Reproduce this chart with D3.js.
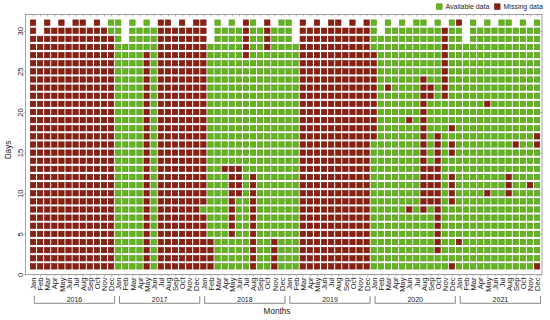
<!DOCTYPE html>
<html><head><meta charset="utf-8">
<script src="https://cdn.jsdelivr.net/npm/d3@7"></script>
<style>body{margin:0;background:#fff}svg{display:block;font-family:"Liberation Sans",Arial,sans-serif}</style>
</head><body><svg id="c" width="550" height="320"></svg>
<script>
// ---- data: one string per month, one char per day (A = available, M = missing), grouped by 5 days
const years = [2016, 2017, 2018, 2019, 2020, 2021];
const monthNames = ["Jan","Feb","Mar","Apr","May","Jun","Jul","Aug","Sep","Oct","Nov","Dec"];
const dayTicks = [0, 5, 10, 15, 20, 25, 30];
const legendLabels = ["Available data", "Missing data"];

const status2016 = [
  "MMMMM MMMMM MMMMM MMMMM MMMMM MMMMM M",
  "MMMMM MMMMM MMMMM MMMMM MMMMM MMMM",
  "MMMMM MMMMM MMMMM MMMMM MMMMM MMMMM M",
  "MMMMM MMMMM MMMMM MMMMM MMMMM MMMMM",
  "MMMMM MMMMM MMMMM MMMMM MMMMM MMMMM M",
  "MMMMM MMMMM MMMMM MMMMM MMMMM MMMMM",
  "MMMMM MMMMM MMMMM MMMMM MMMMM MMMMM M",
  "MMMMM MMMMM MMMMM MMMMM MMMMM MMMMM M",
  "MMMMM MMMMM MMMMM MMMMM MMMMM MMMMM",
  "MMMMM MMMMM MMMMM MMMMM MMMMM MMMMM M",
  "MMMMM MMMMM MMMMM MMMMM MMMMM MMMMM",
  "MMMMM MMMMM MMMMM MMMMM MMMMM MMMMA A"
];
const status2017 = [
  "AAAAA AAAAA AAAAA AAAAA AAAAA AAAAA A",
  "AAAAA AAAAA AAAAA AAAAA AAAAA AAA",
  "AAAAA AAAAA AAAAA AAAAA AAAAA AAAAA A",
  "AAAAA AAAAA AAAAA AAAAA AAAAA AAAAA",
  "MMMMM MMMMM MMMMM MMMMM MMMMM MMAAA A",
  "AAAAA AAAAA AAAAA AAAAA AAAAA AAAAA",
  "MMMMM MMMMM MMMMM MMMMM MMMMM MMMMM M",
  "MMMMM MMMMM MMMMM MMMMM MMMMM MMMMM M",
  "MMMMM MMMMM MMMMM MMMMM MMMMM MMMMM",
  "MMMMM MMMMM MMMMM MMMMM MMMMM MMMMM M",
  "MMMMM MMMMM MMMMM MMMMM MMMMM MMMMM",
  "MMMMM MMMMM MMMMM MMMMM MMMMM MMMMM M"
];
const status2018 = [
  "MMMMM MMAMM MMMMM MMMMM MMMMM MMMMM M",
  "MMMMA AAAAA AAAAA AAAAA AAAAA AAA",
  "AAAAA AAAAA AAAAA AAAAA AAAAA AAAAA A",
  "AAAAA AAAAA AAMAA AAAAA AAAAA AAAAA",
  "AAAAM MMMMM MMMAA AAAAA AAAAA AAAAA A",
  "AAAAA AAAAM MMMAA AAAAA AAAAA AAAAA",
  "AAAAA AAAAA AAAAA AAAAA AAAAA AMMMM M",
  "MMMMM MMMMM MMAAA AAAAA AAAAA AAAAA A",
  "AAAAA AAAAA AAAAA AAAAA AAAAA AAAAA",
  "AAAAA AAAAA AAAAA AAAAA AAAAA AAMMM M",
  "MMMMA AAAAA AAAAA AAAAA AAAAA AAAAA",
  "AAAAA AAAAA AAAAA AAAAA AAAAA AAAAA A"
];
const status2019 = [
  "AAAAA AAAAA AAAAA AAAAA AAAAA AAAAA A",
  "AAAAA AAAAA AAAAA AAAAA AAAAA AAA",
  "MMMMM MMMMM MMMMM MMMMM MMMMM MMMMM M",
  "MMMMM MMMMM MMMMM MMMMM MMMMM MMMMM",
  "MMMMM MMMMM MMMMM MMMMM MMMMM MMMMM M",
  "MMMMM MMMMM MMMMM MMMMM MMMMM MMMMM",
  "MMMMM MMMMM MMMMM MMMMM MMMMM MMMMM M",
  "MMMMM MMMMM MMMMM MMMMM MMMMM MMMMM M",
  "MMMMM MMMMM MMMMM MMMMM MMMMM MMMMM",
  "MMMMM MMMMM MMMMM MMMMM MMMMM MMMMM M",
  "MMMMM MMMMM MMMMM MMMMM MMMMM MMMMM",
  "MMMMM MMMMM MMMMM MMMMM MMMMM MMMMM M"
];
const status2020 = [
  "AAAAA AAAAA AAAAA AMMMM MMMMM MMAAA A",
  "AAAAA AAAAA AAAAA AAAAA AAAAA AAAA",
  "AAAAA AAAAA AAAAA AAAAA AAMAA AAAAA A",
  "AAAAA AAAAA AAAAA AAAAA AAAAA AAAAA",
  "AAAAA AAAAA AAAAA AAAAA AAAAA AAAAA A",
  "AAAAA AAMAA AAAAA AAAMA AAAAA AAAAA",
  "AAAAA AAAAA AAAAA AAAAA AAAAA AAAAA A",
  "AAAAA AAMMM MMMMM MMMMM MMMMA AAAAA A",
  "AAAAA AAAMM MMMAA AAAAA AMMAA AAAAA",
  "AAMMM MMMMM MMMMM MMAAA AAAAA AAAAA A",
  "AAAAA AAAAA AAAAA AAAAA AMMMM MMMMM",
  "MAAAA AAAMM MMAAM MAMAA AAAAA AAAAA A"
];
const status2021 = [
  "AAAMA AAAAA AAAAA AAAAA AAAAA AAAAA M",
  "AAAAA AAAAA AAAAA AAAAA AAAAA AAA",
  "AAAAA AAAAA AAAAA AAAAA AAAAA AAAAA A",
  "AAAAA AAAAA AAAAA AAAAA AAAAA AAAAA",
  "AAAAA AAAAM AAAAA AAAAA MAAAA AAAAA A",
  "AAAAA AAAAA AAAAA AAAAA AAAAA AAAAA",
  "AAAAA AAAAA AAAAA AAAAA AAAAA AAAAA A",
  "AAAAA AAAAM MMAAA AAAAA AAAAA AAAAA A",
  "AAAAA AAAAA AAAAA MAAAA AAAAA AAAAA",
  "AAAAA AAAAA AAAAA AAAAA AAAAA AAAAA A",
  "AAAAA AAAAA MAAAA AAAAA AAAAA AAAAA",
  "MAAAA AAAAA AAAAA MMAAA AAAAA AAAAA A"
];
const statusByYear = [status2016, status2017, status2018, status2019, status2020, status2021];

// ---- build cells
const cells = [];
years.forEach((yr, yi) => statusByYear[yi].forEach((s, mi) => {
  const str = s.replace(/ /g, "");
  const nd = new Date(yr, mi + 1, 0).getDate();
  if (str.length !== nd) throw new Error("bad length " + yr + "-" + (mi + 1) + ": " + str.length + " vs " + nd);
  [...str].forEach((c, di) => cells.push({ m: yi * 12 + mi, day: di + 1, missing: c === "M" }));
}));

const GREEN = "#64b41e", GREEN_S = "#4f9416";
const RED = "#8b2010", RED_S = "#6c150a";
const TXT = "#222";

const svg = d3.select("#c");
const x = d3.scaleLinear().domain([-1.06, 71.7]).range([25.5, 542]);
const y = d3.scaleLinear().domain([0, 32]).range([274.5, 14.5]);
const months = d3.range(years.length * 12);

// frame
svg.append("rect").attr("x", x.range()[0]).attr("y", y.range()[1])
  .attr("width", x.range()[1] - x.range()[0]).attr("height", y.range()[0] - y.range()[1])
  .attr("fill", "#fff").attr("stroke", "#8a8a8a").attr("stroke-width", 0.8);

// cells
const S = 5.4;
svg.append("g").selectAll("rect").data(cells).join("rect")
  .attr("x", d => x(d.m) - S / 2).attr("y", d => y(d.day) - S / 2)
  .attr("width", S).attr("height", S)
  .attr("fill", d => d.missing ? RED : GREEN)
  .attr("stroke", d => d.missing ? RED_S : GREEN_S).attr("stroke-width", 0.6);

// bottom axis with month labels
const xb = svg.append("g").attr("transform", `translate(0,${y.range()[0]})`)
  .call(d3.axisBottom(x).tickValues(months).tickFormat(i => monthNames[i % 12]).tickSize(2).tickSizeOuter(0));
xb.select(".domain").remove();
xb.selectAll("line").attr("stroke", "#8a8a8a").attr("stroke-width", 0.6);
xb.selectAll("text").attr("transform", "rotate(-90)").attr("x", -3).attr("y", 0).attr("dy", "0.35em")
  .attr("text-anchor", "end").attr("font-size", 7.6).attr("fill", TXT).attr("font-family", "Liberation Sans, Arial, sans-serif");

// top ticks
const xt = svg.append("g").attr("transform", `translate(0,${y.range()[1]})`)
  .call(d3.axisBottom(x).tickValues(months).tickFormat("").tickSize(2).tickSizeOuter(0));
xt.select(".domain").remove();
xt.selectAll("line").attr("stroke", "#8a8a8a").attr("stroke-width", 0.6);

// left axis
const yl = svg.append("g").attr("transform", `translate(${x.range()[0]},0)`)
  .call(d3.axisLeft(y).tickValues(dayTicks).tickSize(2).tickSizeOuter(0));
yl.select(".domain").remove();
yl.selectAll("line").attr("stroke", "#8a8a8a").attr("stroke-width", 0.6);
yl.selectAll("text").attr("transform", "rotate(-90)").attr("x", 0).attr("y", -3).attr("dy", 0)
  .attr("text-anchor", "middle").attr("font-size", 7.6).attr("fill", TXT).attr("font-family", "Liberation Sans, Arial, sans-serif");

// right ticks
const yr = svg.append("g").attr("transform", `translate(${x.range()[1]},0)`)
  .call(d3.axisLeft(y).tickValues(dayTicks).tickFormat("").tickSize(3).tickSizeOuter(0));
yr.select(".domain").remove();
yr.selectAll("line").attr("stroke", "#8a8a8a").attr("stroke-width", 0.6);

// year brackets
const yb = svg.append("g");
years.forEach((yrv, yi) => {
  const x0 = x(yi * 12) + 1.3, x1 = x(yi * 12 + 11) + 3.5;
  yb.append("path").attr("d", `M${x0},296 V303.3 H${x1} V296`)
    .attr("fill", "none").attr("stroke", "#555").attr("stroke-width", 0.7);
  yb.append("text").attr("x", (x0 + x1) / 2).attr("y", 302).attr("text-anchor", "middle")
    .attr("font-size", 7).attr("fill", TXT).text(yrv);
});

// axis titles
svg.append("text").attr("x", 277).attr("y", 314).attr("text-anchor", "middle")
  .attr("font-size", 8.2).attr("fill", TXT).text("Months");
svg.append("text").attr("transform", "translate(11,150) rotate(-90)").attr("text-anchor", "middle")
  .attr("font-size", 8.2).attr("fill", TXT).text("Days");

// legend
const lg = svg.append("g");
const legendX = [436.5, 494.5];
legendLabels.forEach((lab, i) => {
  lg.append("rect").attr("x", legendX[i]).attr("y", 3.8).attr("width", 5.6).attr("height", 5.6)
    .attr("fill", i === 0 ? GREEN : RED).attr("stroke", i === 0 ? GREEN_S : RED_S).attr("stroke-width", 0.6);
  lg.append("text").attr("x", legendX[i] + 9).attr("y", 9.3).attr("font-size", 7)
    .attr("fill", TXT).text(lab);
});
</script></body></html>
